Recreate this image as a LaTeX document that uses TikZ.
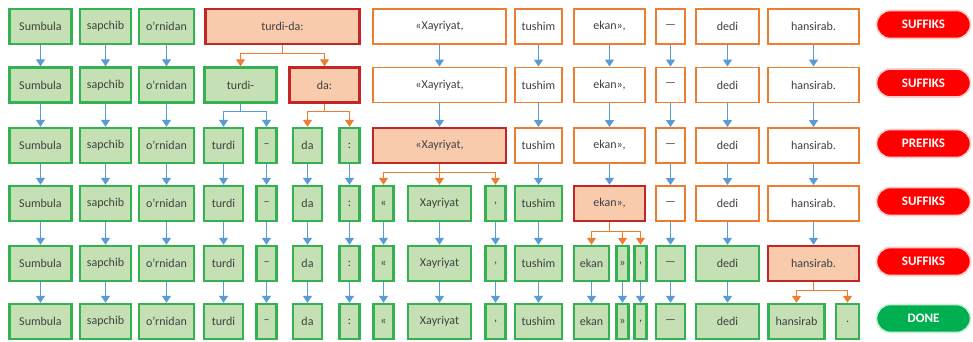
\documentclass[tikz,border=0pt]{standalone}
\usepackage{fontspec}
\setmainfont{Carlito}
\usetikzlibrary{arrows.meta}

\definecolor{leaf}{RGB}{52,178,82}
\definecolor{leaffill}{RGB}{197,224,180}
\definecolor{hot}{RGB}{196,38,38}
\definecolor{hotfill}{RGB}{248,203,173}
\definecolor{wait}{RGB}{237,125,49}
\definecolor{pass}{RGB}{91,155,213}
\definecolor{tagred}{RGB}{255,0,0}
\definecolor{taggreen}{RGB}{0,176,80}

\tikzset{
  word/.style={rectangle, inner sep=0pt, minimum height=35pt, text=black!75, font=\fontsize{12}{14}\selectfont},
  wdone/.style={word, draw=leaf, fill=leaffill, line width=2.4pt},
  wtodo/.style={word, draw=wait, fill=white, line width=1.8pt},
  wcur/.style={word, draw=hot, fill=hotfill, line width=2.4pt},
  tag/.style={rounded corners=14pt, minimum width=94pt, minimum height=28pt, fill=#1, draw=#1!20, line width=1.6pt, text=white, font=\fontsize{13}{15}\selectfont\bfseries},
  flow/.style={pass, line width=1.3pt, -{Triangle[width=9pt,length=7pt]}},
  fanout/.style={flow, wait},
}

\begin{document}
\begin{tikzpicture}[x=1pt, y=-1pt]
    \useasboundingbox (0,0) rectangle (973,342);

    % columns that stay whole
    \foreach \r/\y in {1/26.5, 2/85, 3/145.5, 4/203.5, 5/263.5, 6/321.5} {
        \node[wdone, minimum width=62pt] (a\r) at (40.5,\y) {Sumbula};
        \node[wdone, minimum width=51pt] (b\r) at (105.5,\y) {sapchib};
        \node[wdone, minimum width=55pt] (c\r) at (166.5,\y) {o’rnidan};
    }

    % row 1
    \foreach \n/\x/\w/\s/\t in {t/282.5/154/wcur/turdi-da:, x/439.5/133/wtodo/{«Xayriyat,}, u/538.5/47/wtodo/tushim,
            e/609.5/71/wtodo/{ekan»,}, d/670.5/29/wtodo/—, f/727.5/63/wtodo/dedi, h/813.5/91/wtodo/hansirab.}
        \node[\s, minimum width=\w pt] (\n1) at (\x,26.5) {\t};
    % row 2
    \foreach \n/\x/\w/\s/\t in {p/240.5/72/wdone/turdi-, q/324.5/70/wcur/da:, x/439.5/133/wtodo/{«Xayriyat,}, u/538.5/47/wtodo/tushim,
            e/609.5/71/wtodo/{ekan»,}, d/670.5/29/wtodo/—, f/727.5/63/wtodo/dedi, h/813.5/91/wtodo/hansirab.}
        \node[\s, minimum width=\w pt] (\n2) at (\x,85) {\t};
    % row 3
    \foreach \n/\x/\w/\s/\t in {tu/223.5/39/wdone/turdi, hy/266.5/20/wdone/–, da/307.5/29/wdone/da, co/349.5/20/wdone/:,
            x/439.5/133/wcur/{«Xayriyat,}, u/538.5/47/wtodo/tushim, e/609.5/71/wtodo/{ekan»,}, d/670.5/29/wtodo/—,
            f/727.5/63/wtodo/dedi, h/813.5/91/wtodo/hansirab.}
        \node[\s, minimum width=\w pt] (\n3) at (\x,145.5) {\t};
    % row 4
    \foreach \n/\x/\w/\s/\t in {tu/223.5/39/wdone/turdi, hy/266.5/20/wdone/–, da/307.5/29/wdone/da, co/349.5/20/wdone/:,
            lq/383.5/20/wdone/«, xy/439.5/63/wdone/Xayriyat, cm/495.5/20/wdone/{,}, u/538.5/47/wdone/tushim,
            e/609.5/71/wcur/{ekan»,}, d/670.5/29/wtodo/—, f/727.5/63/wtodo/dedi, h/813.5/91/wtodo/hansirab.}
        \node[\s, minimum width=\w pt] (\n4) at (\x,203.5) {\t};
    % row 5
    \foreach \n/\x/\w/\s/\t in {tu/223.5/39/wdone/turdi, hy/266.5/20/wdone/–, da/307.5/29/wdone/da, co/349.5/20/wdone/:,
            lq/383.5/20/wdone/«, xy/439.5/63/wdone/Xayriyat, cm/495.5/20/wdone/{,}, u/538.5/47/wdone/tushim,
            ek/591.5/35/wdone/ekan, rq/622.5/12/wdone/», cn/640.5/12/wdone/{,}, d/670.5/29/wdone/—,
            f/727.5/63/wdone/dedi, h/813.5/91/wcur/hansirab.}
        \node[\s, minimum width=\w pt] (\n5) at (\x,263.5) {\t};
    % row 6
    \foreach \n/\x/\w/\s/\t in {tu/223.5/39/wdone/turdi, hy/266.5/20/wdone/–, da/307.5/29/wdone/da, co/349.5/20/wdone/:,
            lq/383.5/20/wdone/«, xy/439.5/63/wdone/Xayriyat, cm/495.5/20/wdone/{,}, u/538.5/47/wdone/tushim,
            ek/591.5/35/wdone/ekan, rq/622.5/12/wdone/», cn/640.5/12/wdone/{,}, d/670.5/29/wdone/—,
            f/727.5/63/wdone/dedi, hs/796.5/56/wdone/hansirab, pt/847.5/23/wdone/.}
        \node[\s, minimum width=\w pt] (\n6) at (\x,321.5) {\t};

    % status
    \node[tag=tagred] (s1) at (923.5,24.5) {SUFFIKS};
    \node[tag=tagred] (s2) at (923.5,83) {SUFFIKS};
    \node[tag=tagred] (s3) at (923.5,143.5) {PREFIKS};
    \node[tag=tagred] (s4) at (923.5,201.5) {SUFFIKS};
    \node[tag=tagred] (s5) at (923.5,261.5) {SUFFIKS};
    \node[tag=taggreen] (s6) at (923.5,318.5) {DONE};

    % words carried down unchanged
    \foreach \n/\s/\e in {a/1/5, b/1/5, c/1/5, u/1/5, d/1/5, f/1/5, x/1/2, e/1/3, h/1/4,
            tu/3/5, hy/3/5, da/3/5, co/3/5, lq/4/5, xy/4/5, cm/4/5, ek/5/5, rq/5/5, cn/5/5}
        \foreach \r in {\s,...,\e} {
            \pgfmathtruncatemacro\q{\r+1}
            \draw[flow] (\n\r) -- (\n\q);
        }

    % splits
    \foreach \k in {p2,q2} \draw[fanout] (t1.south) -- ++(0,8) -| (\k.north);
    \foreach \k in {tu3,hy3} \draw[flow] (p2.south) -- ++(0,8) -| (\k.north);
    \foreach \k in {da3,co3} \draw[fanout] (q2.south) -- ++(0,8) -| (\k.north);
    \foreach \k in {lq4,xy4,cm4} \draw[fanout] (x3.south) -- ++(0,8) -| (\k.north);
    \foreach \k in {ek5,rq5,cn5} \draw[fanout] (e4.south) -- ++(0,9) -| (\k.north);
    \foreach \k in {hs6,pt6} \draw[fanout] (h5.south) -- ++(0,8) -| (\k.north);
\end{tikzpicture}
\end{document}
